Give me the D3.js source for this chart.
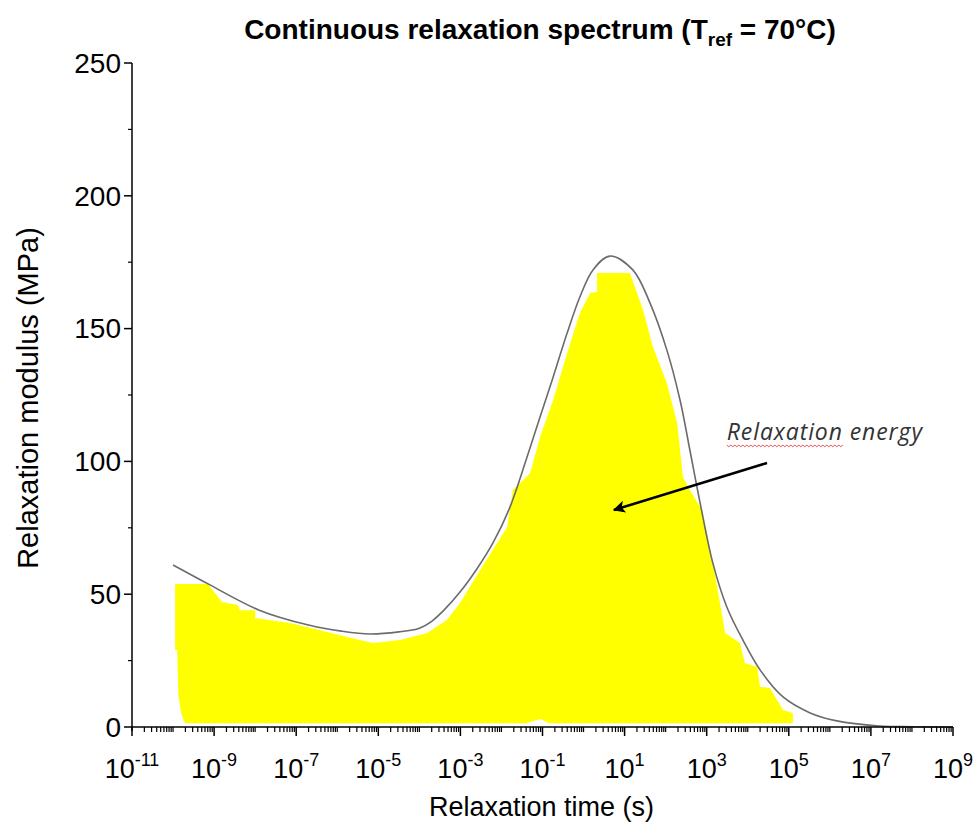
<!DOCTYPE html>
<html>
<head>
<meta charset="utf-8">
<script src="https://cdn.jsdelivr.net/npm/d3@7"></script>
<style>
  body { margin: 0; background: #fff; }
  svg text { font-family: Arial, "Liberation Sans", sans-serif; fill: #000; }
</style>
</head>
<body>
<div id="chart"></div>
<script>
// curve: exponent of relaxation time (log10 s) and modulus (MPa)
const curveExp = [-10.0, -9.1, -7.9, -6.7, -5.9, -5.2, -4.5, -4.0, -3.7, -3.4, -3.0, -2.6, -2.2, -1.8, -1.4, -1.06, -0.74, -0.40, -0.09, 0.23, 0.64, 1.20, 1.62, 2.03, 2.35, 2.59, 2.84, 3.15, 3.49, 3.88, 4.30, 4.86, 5.52, 6.17, 7.2, 8.0, 9.0];
const curveVal = [61.0, 53.5, 44.0, 38.4, 36.1, 35.0, 35.8, 37.2, 39.8, 44.0, 51.0, 59.5, 69.5, 82.5, 100.5, 116.7, 131.8, 148.3, 161.9, 172.1, 177.3, 172.1, 159.6, 141.9, 123.1, 104.3, 84.3, 61.7, 45.2, 32.8, 21.5, 11.3, 5.3, 2.3, 0.4, 0.1, 0.0];

// yellow "relaxation energy" area outline (log10 s, MPa)
const fillExp = [-9.71, -9.80, -9.87, -9.90, -9.95, -9.95, -9.15, -8.81, -8.42, -8.37, -8.0, -8.0, -7.15, -6.25, -5.76, -5.13, -4.47, -3.81, -3.33, -3.01, -2.52, -1.86, -1.72, -1.30, -1.06, -0.74, -0.40, -0.09, 0.16, 0.33, 0.33, 1.13, 1.45, 1.69, 2.03, 2.28, 2.42, 2.59, 2.84, 2.91, 3.15, 3.28, 3.45, 3.81, 3.93, 4.23, 4.30, 4.54, 4.86, 5.10, 5.10, -0.85, -1.05, -1.40];
const fillVal = [1.4, 5.0, 12.0, 29.0, 29.0, 53.8, 53.8, 47.1, 45.9, 44.0, 44.0, 41.0, 39.2, 35.8, 33.9, 31.6, 32.8, 35.4, 40.3, 46.7, 59.1, 75.3, 89.2, 95.6, 109.2, 123.1, 140.8, 155.9, 163.4, 163.8, 170.9, 170.9, 157.0, 143.1, 129.5, 114.5, 94.1, 89.2, 82.8, 80.6, 61.7, 50.5, 35.4, 31.6, 24.1, 22.6, 15.1, 14.7, 6.4, 5.3, 1.4, 1.4, 3.0, 1.4];

const xMajorExp = [-11, -9, -7, -5, -3, -1, 1, 3, 5, 7, 9];
const yMajor = [0, 50, 100, 150, 200, 250];
const yMinor = [25, 75, 125, 175, 225];

const titleMain = 'Continuous relaxation spectrum (T';
const titleSub = 'ref';
const titleEnd = ' = 70°C)';
const xTitle = 'Relaxation time (s)';
const yTitle = 'Relaxation modulus (MPa)';
const noteText = ['Relaxation', ' energy'];
// annotation positions in data units
const noteAt = [3.49, 108];
const arrowFrom = [4.47, 99.4];
const arrowTo = [0.74, 81.7];

// dimension stuff
const width = 978;
const height = 823;
const plotLeft = 132;
const plotRight = 953;
const plotTop = 63;
const plotBottom = 727;
const tickFont = 27;

const $svg = d3.select('#chart').append('svg')
  .attr('width', width)
  .attr('height', height);

// scales
const scaleX = d3.scaleLog().domain([1e-11, 1e9]).range([plotLeft, plotRight]);
const scaleY = d3.scaleLinear().domain([0, 250]).range([plotBottom, plotTop]);
const px = e => scaleX(Math.pow(10, e));

// yellow area
const fillPts = fillExp.map((e, i) => [px(e), scaleY(fillVal[i])]);
$svg.append('path')
  .attr('d', d3.line().curve(d3.curveLinear)(fillPts) + 'Z')
  .attr('fill', '#ffff00')
  .attr('stroke', 'none');

// spectrum curve
const curvePts = curveExp.map((e, i) => [px(e), scaleY(curveVal[i])]);
$svg.append('path')
  .attr('d', d3.line().curve(d3.curveCatmullRom.alpha(0.5))(curvePts))
  .attr('fill', 'none')
  .attr('stroke', '#6b6b6b')
  .attr('stroke-width', 1.6);

// y axis
const $yAxis = $svg.append('g').attr('class', 'y-axis');
$yAxis.append('line')
  .attr('x1', plotLeft).attr('x2', plotLeft)
  .attr('y1', plotTop).attr('y2', plotBottom + 4)
  .attr('stroke', '#000').attr('stroke-width', 1.5);
$yAxis.selectAll('.major').data(yMajor).join('line')
  .attr('class', 'major')
  .attr('x1', plotLeft - 8).attr('x2', plotLeft)
  .attr('y1', d => scaleY(d)).attr('y2', d => scaleY(d))
  .attr('stroke', '#000').attr('stroke-width', 1.5);
$yAxis.selectAll('.minor').data(yMinor).join('line')
  .attr('class', 'minor')
  .attr('x1', plotLeft - 4).attr('x2', plotLeft)
  .attr('y1', d => scaleY(d)).attr('y2', d => scaleY(d))
  .attr('stroke', '#000').attr('stroke-width', 1.2);
$yAxis.selectAll('text').data(yMajor).join('text')
  .attr('x', plotLeft - 11)
  .attr('y', d => scaleY(d))
  .attr('dy', '0.35em')
  .attr('text-anchor', 'end')
  .attr('font-size', 28)
  .text(d => d);

// x axis
const $xAxis = $svg.append('g').attr('class', 'x-axis');
$xAxis.append('line')
  .attr('x1', plotLeft).attr('x2', plotRight)
  .attr('y1', plotBottom).attr('y2', plotBottom)
  .attr('stroke', '#000').attr('stroke-width', 1.5);

const xMinor = [];
for (let e = -11; e < 9; e++) {
  for (let m = 1; m <= 9; m++) {
    if (m === 1 && xMajorExp.includes(e)) continue;
    xMinor.push(m * Math.pow(10, e));
  }
}
$xAxis.selectAll('.minor').data(xMinor).join('line')
  .attr('class', 'minor')
  .attr('x1', d => scaleX(d)).attr('x2', d => scaleX(d))
  .attr('y1', plotBottom).attr('y2', plotBottom + 5)
  .attr('stroke', '#000').attr('stroke-width', 1.2);
$xAxis.selectAll('.major').data(xMajorExp).join('line')
  .attr('class', 'major')
  .attr('x1', d => px(d)).attr('x2', d => px(d))
  .attr('y1', plotBottom).attr('y2', plotBottom + 9)
  .attr('stroke', '#000').attr('stroke-width', 1.5);

const $xLabels = $xAxis.selectAll('text').data(xMajorExp).join('text')
  .attr('x', d => px(d))
  .attr('y', plotBottom + 51)
  .attr('text-anchor', 'middle')
  .attr('font-size', tickFont);
$xLabels.append('tspan').text('10');
$xLabels.append('tspan')
  .attr('dy', -12)
  .attr('font-size', 18)
  .text(d => d);

// axis titles
$svg.append('text')
  .attr('x', (plotLeft + plotRight) / 2 - 1)
  .attr('y', 816)
  .attr('text-anchor', 'middle')
  .attr('font-size', 27)
  .text(xTitle);

$svg.append('text')
  .attr('transform', `translate(38, 398) rotate(-90)`)
  .attr('text-anchor', 'middle')
  .attr('font-size', 29)
  .text(yTitle);

// title
const $title = $svg.append('text')
  .attr('x', 540)
  .attr('y', 39)
  .attr('text-anchor', 'middle')
  .attr('font-size', 28)
  .attr('font-weight', 'bold');
$title.append('tspan').text(titleMain);
$title.append('tspan').attr('dy', 7).attr('font-size', 19).text(titleSub);
$title.append('tspan').attr('dy', -7).text(titleEnd);

// annotation
const $note = $svg.append('text')
  .attr('x', px(noteAt[0]))
  .attr('y', scaleY(noteAt[1]))
  .attr('font-size', 23)
  .attr('font-style', 'italic')
  .attr('letter-spacing', 0.9)
  .style('font-family', '"Open Sans", "Noto Sans", sans-serif')
  .style('fill', '#333');
const $word = $note.append('tspan').text(noteText[0]);
$note.append('tspan').text(noteText[1]);

// spell-check squiggle under first word
const wordW = $word.node().getComputedTextLength();
const sx = px(noteAt[0]);
const sy = scaleY(noteAt[1]) + 5;
const squig = [];
for (let i = 0; i <= Math.round(wordW / 2); i++) squig.push([sx + i * 2, sy + (i % 2 ? 1.5 : 0)]);
$svg.append('path')
  .attr('d', d3.line()(squig))
  .attr('fill', 'none')
  .attr('stroke', '#e04040')
  .attr('stroke-width', 0.9);

// arrow
$svg.append('defs').append('marker')
  .attr('id', 'arrowhead')
  .attr('viewBox', '0 0 10 10')
  .attr('refX', 9).attr('refY', 5)
  .attr('markerWidth', 5).attr('markerHeight', 5)
  .attr('orient', 'auto')
  .append('path')
  .attr('d', 'M0,0 L10,5 L0,10 L2.5,5 Z')
  .attr('fill', '#000');

$svg.append('line')
  .attr('x1', px(arrowFrom[0])).attr('y1', scaleY(arrowFrom[1]))
  .attr('x2', px(arrowTo[0])).attr('y2', scaleY(arrowTo[1]))
  .attr('stroke', '#000')
  .attr('stroke-width', 2.5)
  .attr('marker-end', 'url(#arrowhead)');
</script>
</body>
</html>
